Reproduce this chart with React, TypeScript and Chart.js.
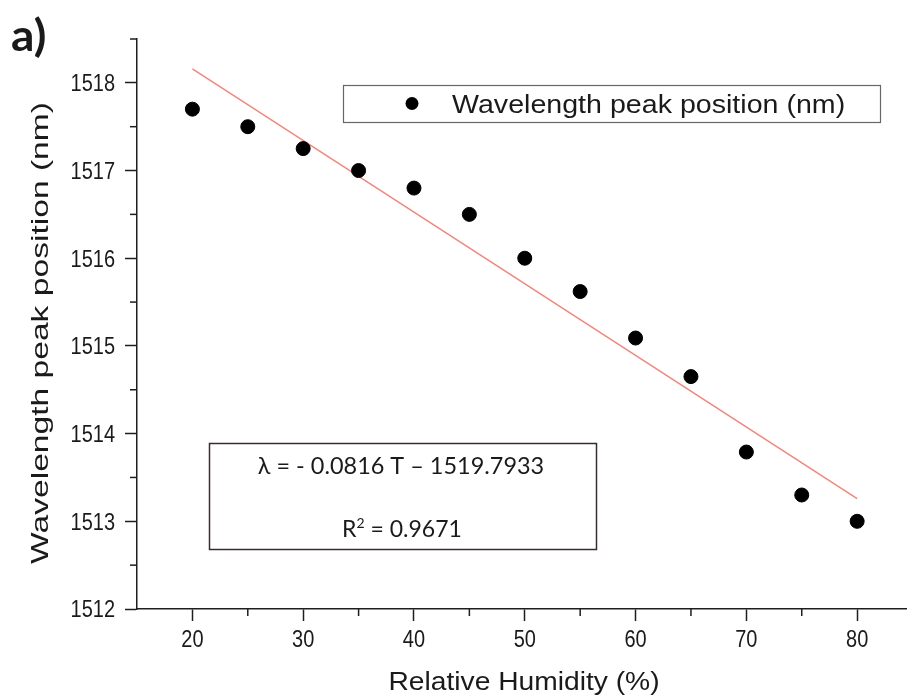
import React, { useEffect, useRef } from "react";
import { Chart, registerables } from "chart.js";

Chart.register(...registerables);

// ---- data ----
const humidity = [20, 25, 30, 35, 40, 45, 50, 55, 60, 65, 70, 75, 80];
const peakWavelength = [
  1517.7, 1517.5, 1517.25, 1517.0, 1516.8, 1516.5, 1516.0, 1515.62, 1515.09,
  1514.65, 1513.79, 1513.3, 1513.0,
];
const fitHumidity = [20, 80];
const fitWavelength = [1518.16, 1513.26];
const xTicks = [20, 30, 40, 50, 60, 70, 80];
const xMinorTicks = [25, 35, 45, 55, 65, 75];
const yTicks = [1512, 1513, 1514, 1515, 1516, 1517, 1518];
const yMinorTicks = [1512.5, 1513.5, 1514.5, 1515.5, 1516.5, 1517.5, 1518.5];

const xTitle = "Relative Humidity (%)";
const yTitle = "Wavelength peak position (nm)";
const seriesLabel = "Wavelength peak position (nm)";
const equationText = "λ = - 0.0816 T \u2013 1519.7933";
const r2Prefix = "R";
const r2Sup = "2";
const r2Rest = " = 0.9671";
const panelLabel = "a)";

const AXIS = "#1e1e1e";
const TEXT = "#1a1a1a";
const SANS = "'Liberation Sans', Arial, sans-serif";
const HUMANIST = "Lato, 'Open Sans', sans-serif";

function drawText(
  ctx: CanvasRenderingContext2D,
  text: string,
  x: number,
  y: number,
  font: string,
  align: CanvasTextAlign,
  sx: number,
  sy: number,
  rotate = 0,
  dy = 0
) {
  ctx.save();
  ctx.translate(x, y);
  if (rotate) ctx.rotate(rotate);
  ctx.scale(sx, sy);
  ctx.font = font;
  ctx.textAlign = align;
  ctx.textBaseline = "alphabetic";
  ctx.fillText(text, 0, dy);
  ctx.restore();
}

const decorPlugin = {
  id: "decor",
  afterDraw(chart: any) {
    const { ctx, chartArea, scales } = chart;
    const x = scales.x;
    const y = scales.y;
    ctx.save();
    // minor ticks
    ctx.strokeStyle = AXIS;
    ctx.lineWidth = 1.5;
    xMinorTicks.forEach((v) => {
      const px = x.getPixelForValue(v);
      ctx.beginPath();
      ctx.moveTo(px, chartArea.bottom);
      ctx.lineTo(px, chartArea.bottom + 7);
      ctx.stroke();
    });
    yMinorTicks.forEach((v) => {
      const py = y.getPixelForValue(v);
      ctx.beginPath();
      ctx.moveTo(chartArea.left, py);
      ctx.lineTo(chartArea.left - 7, py);
      ctx.stroke();
    });

    // tick labels
    ctx.fillStyle = TEXT;
    const tickFont = `20px ${SANS}`;
    yTicks.forEach((v) => {
      const py = y.getPixelForValue(v);
      drawText(ctx, String(v), 115, py, tickFont, "right", 1, 1.17, 0, 7.2);
    });
    xTicks.forEach((v) => {
      const px = x.getPixelForValue(v);
      drawText(ctx, String(v), px, 647, tickFont, "center", 1, 1.17);
    });

    // axis titles
    drawText(ctx, xTitle, (chartArea.left + chartArea.right) / 2 + 2, 690, `26px ${SANS}`, "center", 1.085, 1);
    drawText(ctx, yTitle, 48, 333, `24px ${SANS}`, "center", 1.4, 1, -Math.PI / 2);

    // legend box
    ctx.fillStyle = "#fff";
    ctx.fillRect(343, 85, 537, 37);
    ctx.strokeStyle = "#666";
    ctx.lineWidth = 1.2;
    ctx.strokeRect(343.5, 85.5, 537, 37);
    ctx.fillStyle = "#000";
    ctx.beginPath();
    ctx.arc(412, 103.5, 6.5, 0, Math.PI * 2);
    ctx.fill();
    ctx.fillStyle = TEXT;
    drawText(ctx, seriesLabel, 452, 113, `26px ${SANS}`, "left", 1.1, 1);

    // equation box
    ctx.fillStyle = "#fff";
    ctx.fillRect(209, 443, 387, 106);
    ctx.strokeStyle = "#3a2c2c";
    ctx.lineWidth = 1.5;
    ctx.strokeRect(209.5, 443.5, 387, 106);
    ctx.fillStyle = TEXT;
    drawText(ctx, equationText, 401, 474, `23px ${HUMANIST}`, "center", 1.02, 1);
    // R^2 line
    const mainFont = `23px ${HUMANIST}`;
    const supFont = `14px ${HUMANIST}`;
    ctx.font = mainFont;
    const wR = ctx.measureText(r2Prefix).width;
    const wRest = ctx.measureText(r2Rest).width;
    ctx.font = supFont;
    const wSup = ctx.measureText(r2Sup).width;
    const total = wR + wSup + wRest;
    let sx = 402 - total / 2;
    drawText(ctx, r2Prefix, sx, 537, mainFont, "left", 1, 1);
    sx += wR;
    drawText(ctx, r2Sup, sx, 528, supFont, "left", 1, 1);
    sx += wSup;
    drawText(ctx, r2Rest, sx, 537, mainFont, "left", 1, 1);

    // panel label
    drawText(ctx, panelLabel, 11, 51, `bold 44px ${HUMANIST}`, "left", 1.05, 0.98);
    ctx.restore();
  },
};

export default function App() {
  const ref = useRef<HTMLCanvasElement>(null);
  useEffect(() => {
    if (!ref.current) return;
    const chart = new Chart(ref.current, {
      type: "scatter",
      data: {
        datasets: [
          {
            label: seriesLabel,
            data: humidity.map((h, i) => ({ x: h, y: peakWavelength[i] })),
            backgroundColor: "#000",
            borderColor: "#000",
            pointRadius: 7,
            pointHoverRadius: 7,
            order: 1,
          },
          {
            label: "Linear fit",
            data: fitHumidity.map((h, i) => ({ x: h, y: fitWavelength[i] })),
            showLine: true,
            borderColor: "rgb(240,135,125)",
            borderWidth: 1.5,
            pointRadius: 0,
            order: 2,
          },
        ],
      },
      options: {
        animation: false,
        responsive: true,
        maintainAspectRatio: false,
        layout: {
          autoPadding: false,
          padding: { top: 39, right: 0, bottom: 0, left: 0 },
        },
        plugins: {
          legend: { display: false },
          tooltip: { enabled: false },
        },
        scales: {
          x: {
            type: "linear",
            min: 15,
            max: 84.5,
            afterBuildTicks: (s: any) => {
              s.ticks = xTicks.map((v) => ({ value: v }));
            },
            afterFit: (s: any) => {
              s.height = 89;
            },
            grid: {
              drawOnChartArea: false,
              drawTicks: true,
              tickLength: 12,
              tickColor: AXIS,
              tickWidth: 1.5,
            },
            border: { display: true, color: AXIS, width: 1.5 },
            ticks: { display: false },
            title: { display: false, text: xTitle },
          },
          y: {
            type: "linear",
            min: 1512,
            max: 1518.5,
            afterBuildTicks: (s: any) => {
              s.ticks = yTicks.map((v) => ({ value: v }));
            },
            afterFit: (s: any) => {
              s.width = 137;
            },
            grid: {
              drawOnChartArea: false,
              drawTicks: true,
              tickLength: 12,
              tickColor: AXIS,
              tickWidth: 1.5,
            },
            border: { display: true, color: AXIS, width: 1.5 },
            ticks: { display: false },
            title: { display: false, text: yTitle },
          },
        },
      },
      plugins: [decorPlugin],
    });
    return () => chart.destroy();
  }, []);
  return (
    <div
      style={{
        position: "fixed",
        left: 0,
        top: 0,
        width: 907,
        height: 698,
        background: "#fff",
      }}
    >
      <canvas ref={ref} />
    </div>
  );
}
